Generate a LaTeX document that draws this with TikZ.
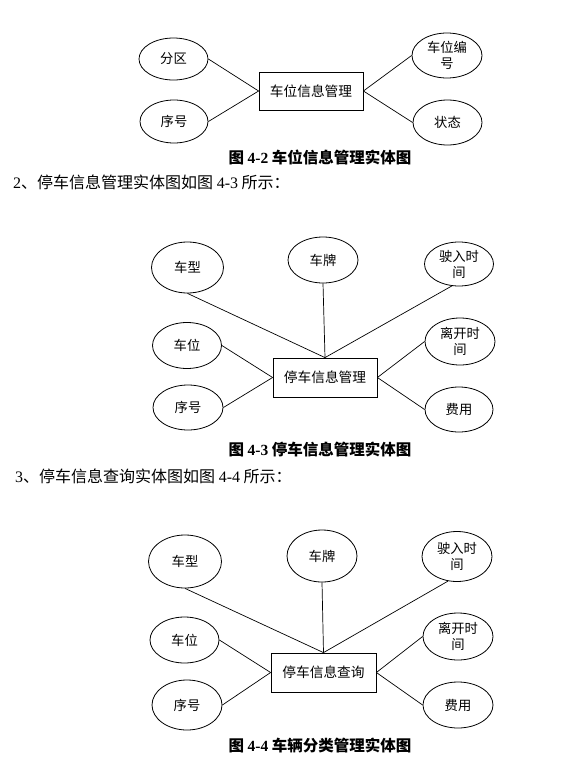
\documentclass[tikz,border=0pt]{standalone}
\usepackage{fontspec}
\setmainfont{Noto Sans CJK SC}
\newfontfamily\tms{Liberation Serif}
\usetikzlibrary{shapes.geometric}
\begin{document}
\begin{tikzpicture}[x=1pt,y=-1pt,
  attr/.style={ellipse,draw,line width=0.8pt,inner sep=0pt,minimum width=70pt,minimum height=46pt,
    font=\fontsize{13.3}{16}\selectfont,align=center},
  ent/.style={rectangle,draw,line width=0.8pt,minimum width=104pt,minimum height=38pt,inner sep=0pt,
    font=\fontsize{13.7}{16}\selectfont},
  conn/.style={line width=0.7pt},
  figcap/.style={font=\fontsize{15.5}{18}\selectfont\bfseries},
  bodytext/.style={font=\fontsize{16}{18}\selectfont,anchor=west,inner sep=0pt}]
\useasboundingbox[fill=white] (0,0) rectangle (576,771);

% ---------- Figure 4-2 ----------
\node[ent] (e1) at (311,91) {车位信息管理};
\node[attr,minimum width=69pt,minimum height=42pt] (a11) at (173.5,59) {分区};
\node[attr,minimum width=68pt,minimum height=43pt] (a12) at (174,121.5) {序号};
\node[attr,minimum width=70pt,minimum height=45pt] (a13) at (447,55.5) {车位编\\号};
\node[attr,minimum width=69pt,minimum height=45pt] (a14) at (447.5,122.5) {状态};
\draw[conn] (a11.east) -- (e1.west);
\draw[conn] (a12.east) -- (e1.west);
\draw[conn] (e1.east) -- (a13.west);
\draw[conn] (e1.east) -- (a14.west);
\node[figcap] (c1) at (320,157) {图 {\tms\bfseries 4-2} 车位信息管理实体图};

\node[bodytext] (t1) at (13,182) {{\tms 2}、停车信息管理实体图如图 {\tms 4-3} 所示：};

% ---------- Figure 4-3 ----------
\node[ent,minimum width=104pt,minimum height=39pt] (e2) at (325,377.5) {停车信息管理};
\node[attr,minimum width=72pt,minimum height=51pt] (a21) at (187.5,267.5) {车型};
\node[attr,minimum width=70pt,minimum height=46pt] (a22) at (323,260) {车牌};
\node[attr,minimum width=69pt,minimum height=44pt] (a23) at (459,264) {驶入时\\间};
\node[attr,minimum width=69pt,minimum height=46pt] (a24) at (187,345.5) {车位};
\node[attr,minimum width=70pt,minimum height=45pt] (a25) at (188,407.5) {序号};
\node[attr,minimum width=70pt,minimum height=47pt] (a26) at (460,341.5) {离开时\\间};
\node[attr,minimum width=68pt,minimum height=45pt] (a27) at (459,409.5) {费用};
\draw[conn] (a21.south) -- (e2.north);
\draw[conn] (a22.south) -- (e2.north);
\draw[conn] (a23.-108) -- (e2.north);
\draw[conn] (a24.east) -- (e2.west);
\draw[conn] (a25.east) -- (e2.west);
\draw[conn] (e2.east) -- (a26.west);
\draw[conn] (e2.east) -- (a27.west);
\node[figcap] (c2) at (320,450) {图 {\tms\bfseries 4-3} 停车信息管理实体图};

\node[bodytext] (t2) at (15,476) {{\tms 3}、停车信息查询实体图如图 {\tms 4-4} 所示：};

% ---------- Figure 4-4 ----------
\node[ent,minimum width=105pt,minimum height=39pt] (e3) at (323.5,672.5) {停车信息查询};
\node[attr,minimum width=73pt,minimum height=53pt] (a31) at (185,561.5) {车型};
\node[attr,minimum width=70pt,minimum height=52pt] (a32) at (322,556) {车牌};
\node[attr,minimum width=70pt,minimum height=50pt] (a33) at (457,556.5) {驶入时\\间};
\node[attr,minimum width=69pt,minimum height=46pt] (a34) at (184.5,640) {车位};
\node[attr,minimum width=70pt,minimum height=50pt] (a35) at (187,705) {序号};
\node[attr,minimum width=70pt,minimum height=47pt] (a36) at (458,636.5) {离开时\\间};
\node[attr,minimum width=70pt,minimum height=46pt] (a37) at (458,705) {费用};
\draw[conn] (a31.south) -- (e3.north);
\draw[conn] (a32.south) -- (e3.north);
\draw[conn] (a33.-110) -- (e3.north);
\draw[conn] (a34.east) -- (e3.west);
\draw[conn] (a35.east) -- (e3.west);
\draw[conn] (e3.east) -- (a36.west);
\draw[conn] (e3.east) -- (a37.west);
\node[figcap] (c3) at (320,745) {图 {\tms\bfseries 4-4} 车辆分类管理实体图};
\end{tikzpicture}
\end{document}
